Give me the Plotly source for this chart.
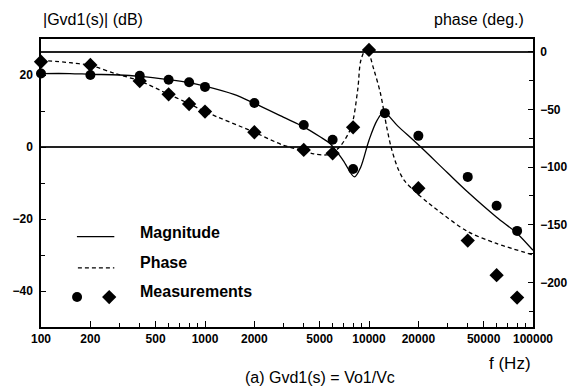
import plotly.graph_objects as go

# ---- data ----
mag_curve_f = [100, 150, 200, 300, 400, 600, 800, 1000, 1500, 2000, 3000, 4000, 5000,
               5800, 6950, 8150, 8900, 10000, 11200, 12300, 15000, 20000, 30000,
               40000, 60000, 80000, 100000]
mag_curve_db = [20.4, 20.4, 20.2, 20.0, 19.6, 18.7, 17.9, 16.9, 14.6, 12.1, 8.3, 5.6, 2.9,
                0.9, -3.7, -8.3, -5.6, 1.9, 7.4, 9.6, 5.8, 0.6, -7.1,
                -12.5, -19.5, -24.0, -28.7]

ph_curve_f = [100, 150, 200, 285, 400, 600, 800, 1000, 2000, 3000, 3930, 4600, 5500, 5900,
              6640, 7780, 8530, 8930, 9660, 10720, 11740, 12850, 13770, 15100, 16500, 19400,
              22750, 26000, 40000, 59300, 100000]
ph_curve_deg = [-7.5, -9.5, -12, -19, -25.4, -36.9, -45, -51.9, -69.8, -81, -85.5, -88.5, -89.4, -88,
                -82.3, -65.5, -33.2, -7.2, 2.9, -15.8, -36, -66, -85, -102, -112, -122,
                -130.5, -137, -155.8, -165.9, -176]

meas_mag_f = [100, 200, 400, 600, 800, 1000, 2000, 4000, 6000, 8000, 12500, 20000, 40000, 60000, 80000]
meas_mag_db = [20.4, 20.0, 19.8, 18.7, 18.0, 16.7, 12.2, 6.1, 2.0, -6.1, 9.4, 3.1, -8.3, -16.3, -23.3]

meas_ph_f = [100, 200, 400, 600, 800, 1000, 2000, 4000, 6000, 8000, 10000, 20000, 40000, 60000, 80000]
meas_ph_deg = [-8.7, -11.5, -25.4, -36.9, -45.3, -51.9, -69.8, -85.1, -88.0, -65.5, 1.5, -118.3,
               -163.6, -193.6, -213.0]

x_tickvals = [100, 200, 500, 1000, 2000, 5000, 10000, 20000, 50000, 100000]
x_ticktext = ["100", "200", "500", "1000", "2000", "5000", "10000", "20000", "50000", "100000"]
x_minor = [300, 400, 600, 700, 800, 900, 3000, 4000, 6000, 7000, 8000, 9000,
           30000, 40000, 60000, 70000, 80000, 90000]

legend_labels = ["Magnitude", "Phase", "Measurements"]

FONT = "Liberation Sans, Arial, sans-serif"
BLACK = "#000000"
DASH = "4px,3px"

fig = go.Figure()

fig.add_trace(go.Scatter(x=mag_curve_f, y=mag_curve_db, mode="lines",
                         line=dict(color=BLACK, width=1.3, shape="spline", smoothing=0.9),
                         yaxis="y", showlegend=False))
fig.add_trace(go.Scatter(x=ph_curve_f, y=ph_curve_deg, mode="lines",
                         line=dict(color=BLACK, width=1.3, dash=DASH, shape="spline", smoothing=0.9),
                         yaxis="y2", showlegend=False))
fig.add_trace(go.Scatter(x=meas_mag_f, y=meas_mag_db, mode="markers",
                         marker=dict(symbol="circle", size=10, color=BLACK),
                         yaxis="y", showlegend=False, cliponaxis=False))
fig.add_trace(go.Scatter(x=meas_ph_f, y=meas_ph_deg, mode="markers",
                         marker=dict(symbol="diamond", size=11, color=BLACK),
                         yaxis="y2", showlegend=False, cliponaxis=False))

# ---- hand-drawn legend on an overlay axis (0..1 = plot area) ----
fig.add_trace(go.Scatter(x=[0.073, 0.149], y=[0.314, 0.314], mode="lines",
                         line=dict(color=BLACK, width=1.3), xaxis="x3", yaxis="y3",
                         showlegend=False, hoverinfo="skip"))
fig.add_trace(go.Scatter(x=[0.075, 0.149], y=[0.205, 0.205], mode="lines",
                         line=dict(color=BLACK, width=1.3, dash=DASH), xaxis="x3", yaxis="y3",
                         showlegend=False, hoverinfo="skip"))
fig.add_trace(go.Scatter(x=[0.0733], y=[0.104], mode="markers",
                         marker=dict(symbol="circle", size=10, color=BLACK), xaxis="x3", yaxis="y3",
                         showlegend=False, hoverinfo="skip"))
fig.add_trace(go.Scatter(x=[0.1386], y=[0.104], mode="markers",
                         marker=dict(symbol="diamond", size=11, color=BLACK), xaxis="x3", yaxis="y3",
                         showlegend=False, hoverinfo="skip"))

annotations = []
for lab, yy in zip(legend_labels, [0.327, 0.223, 0.1226]):
    annotations.append(dict(text=lab, x=0.198, y=yy, xref="paper", yref="paper",
                            xanchor="left", yanchor="middle", showarrow=False,
                            font=dict(family=FONT, size=16, color=BLACK, weight="bold")))

annotations += [
    dict(text="|Gvd1(s)| (dB)", x=0.0, y=1.066, xref="paper", yref="paper", xanchor="left",
         yanchor="middle", showarrow=False, font=dict(family=FONT, size=16, color=BLACK)),
    dict(text="phase (deg.)", x=0.986, y=1.066, xref="paper", yref="paper", xanchor="right",
         yanchor="middle", showarrow=False, font=dict(family=FONT, size=16, color=BLACK)),
    dict(text="f (Hz)", x=0.954, y=-0.125, xref="paper", yref="paper", xanchor="center",
         yanchor="middle", showarrow=False, font=dict(family=FONT, size=17, color=BLACK)),
    dict(text="(a) Gvd1(s) = Vo1/Vc", x=0.567, y=-0.177, xref="paper", yref="paper",
         xanchor="center", yanchor="middle", showarrow=False,
         font=dict(family=FONT, size=16, color=BLACK)),
]

tickfont = dict(family=FONT, size=12, color=BLACK, weight="bold")

fig.update_layout(
    width=580, height=390,
    margin=dict(l=40, r=35, t=39, b=63),
    paper_bgcolor="white", plot_bgcolor="white",
    font=dict(family=FONT, color=BLACK),
    showlegend=False,
    annotations=annotations,
    xaxis=dict(type="log", range=[2, 5], tickmode="array", tickvals=x_tickvals,
               ticktext=x_ticktext, ticks="inside", ticklen=6, tickwidth=1, tickcolor=BLACK,
               minor=dict(tickmode="array", tickvals=x_minor, ticks="inside", ticklen=4,
                          tickcolor=BLACK, showgrid=False),
               showline=True, linecolor=BLACK, linewidth=1.5, mirror=True,
               showgrid=False, zeroline=False, tickfont=tickfont),
    yaxis=dict(range=[-50, 30], tick0=0, dtick=20, ticks="inside", ticklen=5,
               tickcolor=BLACK, minor=dict(dtick=10, ticks="inside", ticklen=4, tickcolor=BLACK),
               showline=True, linecolor=BLACK, linewidth=1.5, mirror=False,
               showgrid=False, zeroline=True, zerolinecolor="#222222", zerolinewidth=1.6,
               tickfont=tickfont, ticklabelstandoff=4),
    yaxis2=dict(range=[-238.5, 11], tick0=0, dtick=50, overlaying="y", side="right",
                ticks="inside", ticklen=5, tickcolor=BLACK,
                minor=dict(dtick=25, ticks="inside", ticklen=4, tickcolor=BLACK),
                showline=True, linecolor=BLACK, linewidth=1.5,
                showgrid=False, zeroline=True, zerolinecolor="#222222", zerolinewidth=1.6,
                tickfont=tickfont, ticklabelstandoff=3),
    xaxis3=dict(range=[0, 1], overlaying="x", visible=False, fixedrange=True),
    yaxis3=dict(range=[0, 1], overlaying="y", visible=False, fixedrange=True),
)

fig.write_html("out.html")
